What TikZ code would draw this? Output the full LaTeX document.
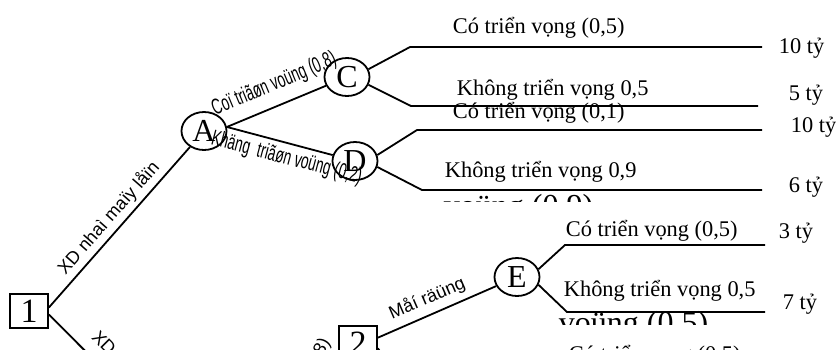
\documentclass[tikz,border=0pt]{standalone}
\usepackage{fontspec}
\setmainfont{Liberation Serif}
\setsansfont{Liberation Sans}
\newfontfamily\narrowsf[FakeStretch=0.62]{Liberation Sans}
\usetikzlibrary{shapes.geometric}

\tikzset{
  chance/.style={draw,ellipse,inner sep=0pt,minimum width=22.5pt,minimum height=19pt,font=\fontsize{16}{18}\selectfont},
  decision/.style={draw,rectangle,inner sep=0pt,minimum width=19pt,minimum height=17pt,font=\fontsize{17}{19}\selectfont},
  brtext/.style={anchor=base west,inner sep=0pt,font=\fontsize{11.2}{13}\selectfont},
  cuttext/.style={anchor=base west,inner sep=0pt,font=\fontsize{16}{18}\selectfont},
  slab/.style={sloped,inner sep=1pt,font=\sffamily\fontsize{9}{10}\selectfont},
  nlab/.style={sloped,inner sep=1pt,font=\narrowsf\fontsize{11}{12}\selectfont}
}

\begin{document}
\begin{tikzpicture}[x=0.5pt,y=-0.5pt,line width=0.9pt]
\useasboundingbox (0,0) rectangle (836,349);
\clip (0,0) rectangle (836,349);
\node[decision] (one) at (29,311) {1};
\node[decision] (two) at (358,343) {2};
\node[chance] (A) at (204,131) {A};
\node[chance] (C) at (347,77) {C};
\node[chance] (D) at (355,161) {D};
\node[chance] (E) at (517,277) {E};
\coordinate (lowB) at (148,414);
\coordinate (lowF) at (420,410);
\coordinate (c1) at (762,47);
\coordinate (c2) at (758,106);
\coordinate (d1) at (762,130);
\coordinate (d2) at (762,190);
\coordinate (e1) at (765,245);
\coordinate (e2) at (765,312);

\draw (one.10) -- (A) node[slab,pos=0.5,above=1pt] {XD nhaì maïy låïn};
\draw (one.-10) -- (lowB) node[slab,pos=0.42,above=5pt] {XD};
\draw (A.10) -- (C) node[nlab,pos=0.56,above=4pt] {Coï triãøn voüng (0,8)};
\draw (A.10) -- (D) node[nlab,pos=0.6,below=1pt] {Khäng\ \ triãøn voüng (0,2)};
\draw (two.15) -- (E) node[slab,pos=0.47,above=2pt] {Måí räüng};
\draw (two.-15) -- (lowF);

\draw (C.20) -- (410,47) -- (c1);
\draw (C.-20) -- (411,106) -- (c2);
\draw (D.15) -- (417,130) -- (d1);
\draw (D.-15) -- (422,190) -- (d2);
\draw (E.20) -- (565,245) -- (e1);
\draw (E.-20) -- (567,312) -- (e2);

\node[brtext] (c1t) at (452,33) {Có triển vọng (0,5)};
\node[brtext] (c1v) at (778,53) {10 tỷ};
\node[brtext] (c2t) at (456,95) {Không triển vọng 0,5};
\node[brtext] (c2v) at (788,100) {5 tỷ};
\node[brtext] (d1t) at (452,118) {Có triển vọng (0,1)};
\node[brtext] (d1v) at (790,132) {10 tỷ};
\node[brtext] (d2t) at (444,177) {Không triển vọng 0,9};
\node[brtext] (d2v) at (788,192) {6 tỷ};
\node[brtext] (e1t) at (565,236) {Có triển vọng (0,5)};
\node[brtext] (e1v) at (778,238) {3 tỷ};
\node[brtext] (e2t) at (563,296) {Không triển vọng 0,5};
\node[brtext] (e2v) at (782,309) {7 tỷ};
\node[brtext] (f1t) at (568,361) {Có triển vọng (0,5)};
\node[font=\sffamily\fontsize{9}{10}\selectfont,rotate=60,anchor=base east,inner sep=0pt] (p08) at (331,342) {(0,8)};

\begin{scope}
\clip (430,180) rectangle (700,201.5);
\node[cuttext] (d2c) at (443,216) {voüng (0,9)};
\end{scope}
\begin{scope}
\clip (540,300) rectangle (760,324);
\node[cuttext] (e2c) at (558,333) {voüng (0,5)};
\end{scope}
\end{tikzpicture}
\end{document}
